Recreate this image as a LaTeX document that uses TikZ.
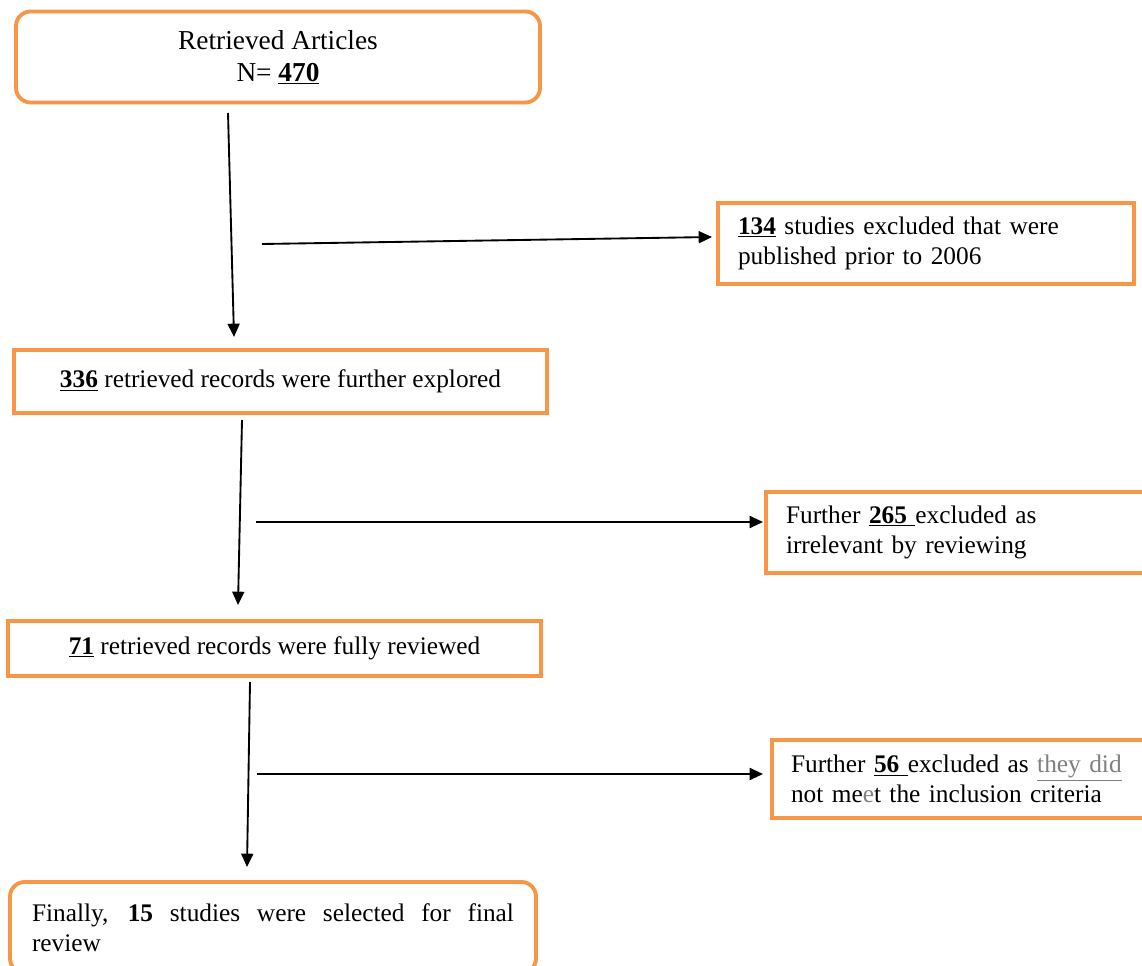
\documentclass[tikz,border=0pt]{standalone}
\usepackage{fontspec}
\setmainfont{Liberation Serif}
\usetikzlibrary{arrows.meta}
\hyphenpenalty=10000
\definecolor{boxorange}{RGB}{247,150,70}
\definecolor{txtgray}{RGB}{128,128,128}
\tikzset{
  px/.style={x=0.75pt,y=-0.75pt},
  flowbox/.style={draw=boxorange, line width=2.9pt, inner ysep=0pt,
    font=\fontsize{19}{22.5}\selectfont},
  roundbox/.style={flowbox, rounded corners=11pt},
  conn/.style={line width=1.4pt, -{Triangle[length=10pt,width=9pt]}}
}
\begin{document}
\begin{tikzpicture}[px]
\useasboundingbox (0,0) rectangle (1142,966);
\begin{scope}
\clip (0,0) rectangle (1142,966);
% boxes
\node[roundbox, minimum width={524*0.75pt}, minimum height={91*0.75pt}, align=center,
  font=\fontsize{20.5}{24}\selectfont]
  (top) at (278,57) {Retrieved Articles\\ N= \underline{\textbf{470}}};
\node[flowbox, text width={376*0.75pt}, inner xsep={20*0.75pt}, minimum height={81*0.75pt}, align=left]
  (ex1) at (926,243.5) {\underline{\textbf{134}} studies excluded that were\\ published prior to 2006};
\node[flowbox, minimum width={533*0.75pt}, minimum height={63*0.75pt}, align=center]
  (r336) at (280.5,381.5) {\underline{\textbf{336}} retrieved records were further explored};
\node[flowbox, text width={376*0.75pt}, inner xsep={20*0.75pt}, minimum height={81*0.75pt}, align=left]
  (ex2) at (974,532.5) {Further \underline{\textbf{265}\ }excluded as\\ irrelevant by reviewing};
\node[flowbox, minimum width={533*0.75pt}, minimum height={55*0.75pt}, align=center]
  (r71) at (274.5,648.5) {\underline{\textbf{71}} retrieved records were fully reviewed};
\node[flowbox, text width={376*0.75pt}, inner xsep={19*0.75pt}, minimum height={78*0.75pt}, align=left]
  (ex3) at (979,779) {Further \underline{\textbf{56}\ }excluded as {\color{txtgray}\underline{they did}}\\ not me{\color{txtgray}e}t the inclusion criteria};
\node[roundbox, text width={482*0.75pt}, inner xsep={22*0.75pt}, minimum height={91*0.75pt}, align=justify]
  (final) at (273,927.5) {Finally, \textbf{15} studies were selected for final\linebreak review};
\end{scope}
% connector end points
\coordinate (a1s) at (228,113); \coordinate (a1e) at (234,337);
\coordinate (a2s) at (262,244); \coordinate (a2e) at (712,237);
\coordinate (a3s) at (242,420); \coordinate (a3e) at (238,605);
\coordinate (a4s) at (256,522); \coordinate (a4e) at (763,522);
\coordinate (a5s) at (250,682); \coordinate (a5e) at (247,867);
\coordinate (a6s) at (257,774); \coordinate (a6e) at (763,774);
\draw[conn] (a1s) -- (a1e);
\draw[conn] (a2s) -- (a2e);
\draw[conn] (a3s) -- (a3e);
\draw[conn] (a4s) -- (a4e);
\draw[conn] (a5s) -- (a5e);
\draw[conn] (a6s) -- (a6e);
\end{tikzpicture}
\end{document}
